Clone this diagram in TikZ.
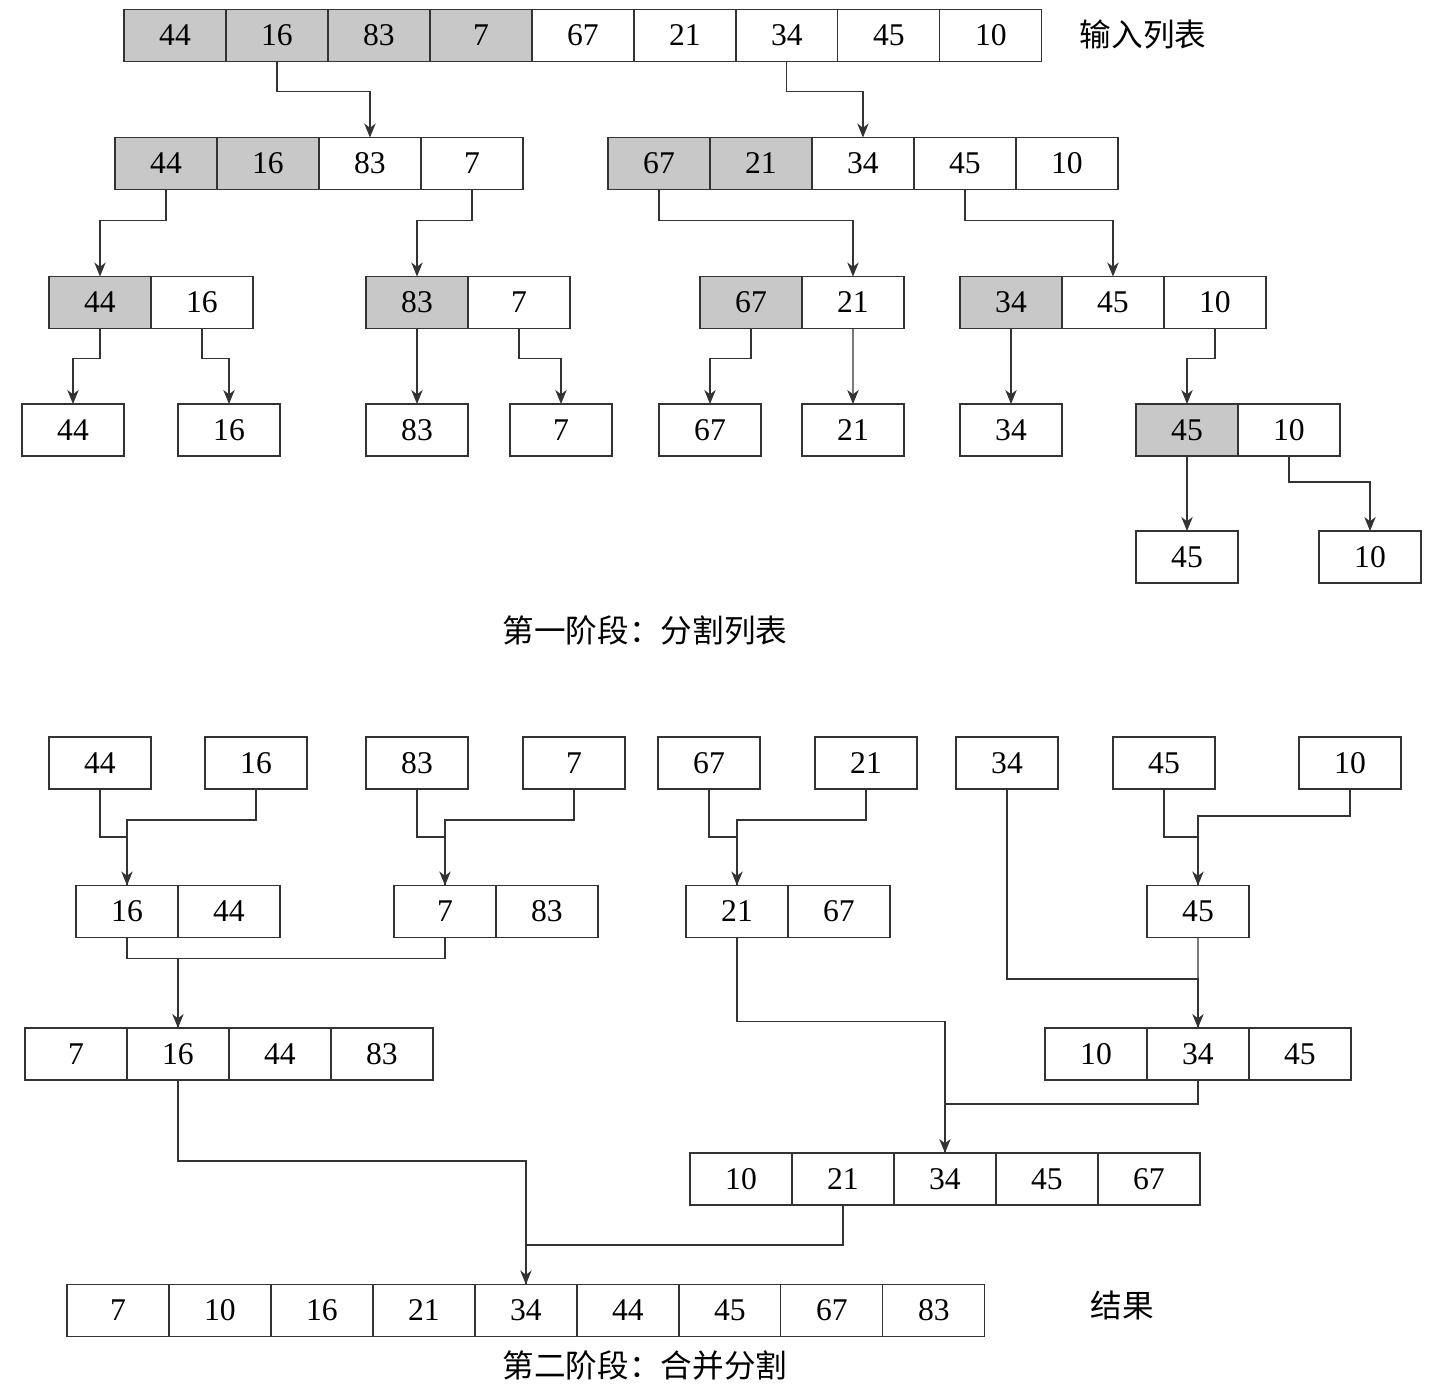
\documentclass[tikz,border=0pt]{standalone}
\usepackage{fontspec}
\setmainfont{Liberation Serif}
\newfontfamily\cjk{Noto Sans CJK SC}
\usetikzlibrary{arrows.meta, positioning}
\definecolor{linegray}{HTML}{333333}
\definecolor{cellgray}{HTML}{C8C8C8}

\begin{document}
\begin{tikzpicture}[
x=0.02cm, y=-0.02cm,
>={Stealth[length=8pt, width=6.5pt, inset=2.5pt]},
node distance=0pt,
cell/.style={
draw=linegray,
line width=0.7pt,
minimum width=2.04cm,
minimum height=1.04cm,
inner sep=0pt,
outer sep=0pt,
fill=#1,
font=\fontsize{18}{21}\selectfont
},
cell/.default=white,
flow/.style={->, draw=linegray, line width=0.7pt},
link/.style={draw=linegray, line width=0.7pt},
zhtext/.style={font=\cjk\fontsize{18}{22}\selectfont}
]
\useasboundingbox (0,0) rectangle (1445,1393);

% Phase 1: input list
\node[cell=cellgray] (in1) at (175,35.5) {44};
\node[cell=cellgray, right=of in1] (in2) {16};
\node[cell=cellgray, right=of in2] (in3) {83};
\node[cell=cellgray, right=of in3] (in4) {7};
\node[cell, right=of in4] (in5) {67};
\node[cell, right=of in5] (in6) {21};
\node[cell, right=of in6] (in7) {34};
\node[cell, right=of in7] (in8) {45};
\node[cell, right=of in8] (in9) {10};
\node[zhtext] (inlabel) at (1143,35) {输入列表};

% Level 2
\node[cell=cellgray] (la1) at (166,163.5) {44};
\node[cell=cellgray, right=of la1] (la2) {16};
\node[cell, right=of la2] (la3) {83};
\node[cell, right=of la3] (la4) {7};
\node[cell=cellgray] (lb1) at (659,163.5) {67};
\node[cell=cellgray, right=of lb1] (lb2) {21};
\node[cell, right=of lb2] (lb3) {34};
\node[cell, right=of lb3] (lb4) {45};
\node[cell, right=of lb4] (lb5) {10};

% Level 3
\node[cell=cellgray] (lc1) at (100,302.5) {44};
\node[cell, right=of lc1] (lc2) {16};
\node[cell=cellgray] (ld1) at (417,302.5) {83};
\node[cell, right=of ld1] (ld2) {7};
\node[cell=cellgray] (le1) at (751,302.5) {67};
\node[cell, right=of le1] (le2) {21};
\node[cell=cellgray] (lf1) at (1011,302.5) {34};
\node[cell, right=of lf1] (lf2) {45};
\node[cell, right=of lf2] (lf3) {10};

% Level 4
\node[cell] (lg1) at (73,430) {44};
\node[cell] (lg2) at (229,430) {16};
\node[cell] (lg3) at (417,430) {83};
\node[cell] (lg4) at (561,430) {7};
\node[cell] (lg5) at (710,430) {67};
\node[cell] (lg6) at (853,430) {21};
\node[cell] (lg7) at (1011,430) {34};
\node[cell=cellgray] (lg8) at (1187,430) {45};
\node[cell, right=of lg8] (lg9) {10};

% Level 5
\node[cell] (lh1) at (1187,557) {45};
\node[cell] (lh2) at (1370,557) {10};

\node[zhtext] (title1) at (645,630) {第一阶段：分割列表};

% Split arrows
\draw[flow] (in2.south) -- ++(0,30) -| (la3.north);
\draw[flow] (in7.south) -- ++(0,30) -| (lb3.north);
\draw[flow] (la1.south) -- ++(0,31) -| (lc1.north);
\draw[flow] (la4.south) -- ++(0,31) -| (ld1.north);
\draw[flow] (lb1.south) -- ++(0,31) -| (le2.north);
\draw[flow] (lb4.south) -- ++(0,31) -| (lf2.north);
\draw[flow] (lc1.south) -- ++(0,30) -| (lg1.north);
\draw[flow] (lc2.south) -- ++(0,30) -| (lg2.north);
\draw[flow] (ld1.south) -- (lg3.north);
\draw[flow] (ld2.south) -- ++(0,30) -| (lg4.north);
\draw[flow] (le1.south) -- ++(0,30) -| (lg5.north);
\draw[flow] (le2.south) -- (lg6.north);
\draw[flow] (lf1.south) -- (lg7.north);
\draw[flow] (lf3.south) -- ++(0,30) -| (lg8.north);
\draw[flow] (lg8.south) -- (lh1.north);
\draw[flow] (lg9.south) -- ++(0,26) -| (lh2.north);

% Phase 2: single items
\node[cell] (ma1) at (100,763) {44};
\node[cell] (ma2) at (256,763) {16};
\node[cell] (ma3) at (417,763) {83};
\node[cell] (ma4) at (574,763) {7};
\node[cell] (ma5) at (709,763) {67};
\node[cell] (ma6) at (866,763) {21};
\node[cell] (ma7) at (1007,763) {34};
\node[cell] (ma8) at (1164,763) {45};
\node[cell] (ma9) at (1350,763) {10};

% Merged pairs
\node[cell] (mb1) at (127,911.5) {16};
\node[cell, right=of mb1] (mb2) {44};
\node[cell] (mb3) at (445,911.5) {7};
\node[cell, right=of mb3] (mb4) {83};
\node[cell] (mb5) at (737,911.5) {21};
\node[cell, right=of mb5] (mb6) {67};
\node[cell] (mb7) at (1198,911.5) {45};

% Merged runs
\node[cell] (mc1) at (76,1054) {7};
\node[cell, right=of mc1] (mc2) {16};
\node[cell, right=of mc2] (mc3) {44};
\node[cell, right=of mc3] (mc4) {83};
\node[cell] (mc5) at (1096,1054) {10};
\node[cell, right=of mc5] (mc6) {34};
\node[cell, right=of mc6] (mc7) {45};

\node[cell] (md1) at (741,1179) {10};
\node[cell, right=of md1] (md2) {21};
\node[cell, right=of md2] (md3) {34};
\node[cell, right=of md3] (md4) {45};
\node[cell, right=of md4] (md5) {67};

% Result
\node[cell] (re1) at (118,1310.5) {7};
\node[cell, right=of re1] (re2) {10};
\node[cell, right=of re2] (re3) {16};
\node[cell, right=of re3] (re4) {21};
\node[cell, right=of re4] (re5) {34};
\node[cell, right=of re5] (re6) {44};
\node[cell, right=of re6] (re7) {45};
\node[cell, right=of re7] (re8) {67};
\node[cell, right=of re8] (re9) {83};
\node[zhtext] (relabel) at (1122,1305) {结果};
\node[zhtext] (title2) at (645,1365) {第二阶段：合并分割};

% Merge arrows
\draw[link] (ma1.south) -- ++(0,48) -| (mb1.north);
\draw[flow] (ma2.south) -- ++(0,31) -| (mb1.north);
\draw[link] (ma3.south) -- ++(0,48) -| (mb3.north);
\draw[flow] (ma4.south) -- ++(0,31) -| (mb3.north);
\draw[link] (ma5.south) -- ++(0,48) -| (mb5.north);
\draw[flow] (ma6.south) -- ++(0,31) -| (mb5.north);
\draw[link] (ma8.south) -- ++(0,48) -| (mb7.north);
\draw[flow] (ma9.south) -- ++(0,27) -| (mb7.north);

\draw[link] (mb1.south) -- ++(0,21) -| (mc2.north);
\draw[flow] (mb3.south) -- ++(0,21) -| (mc2.north);
\draw[link] (ma7.south) -- ++(0,190) -| (mc6.north);
\draw[flow] (mb7.south) -- (mc6.north);

\draw[flow] (mb5.south) -- ++(0,84) -| (md3.north);
\draw[link] (mc6.south) -- ++(0,24) -| (md3.north);

\draw[flow] (mc2.south) -- ++(0,81) -| (re5.north);
\draw[link] (md2.south) -- ++(0,40) -| (re5.north);

\end{tikzpicture}
\end{document}
